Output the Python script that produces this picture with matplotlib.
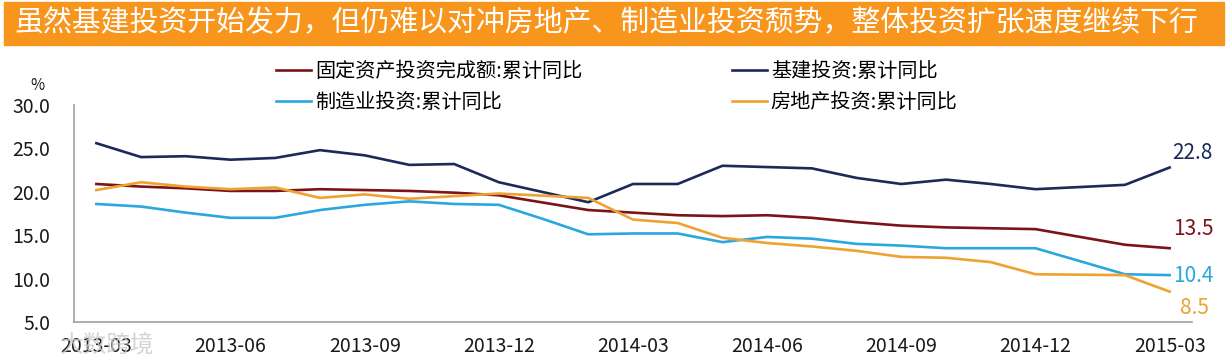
import matplotlib.pyplot as plt
from matplotlib.patches import Rectangle

plt.rcParams['font.family'] = ['Noto Sans CJK SC', 'DejaVu Sans']

# 月份（2013-03 至 2015-03）
months = ['2013-03', '2013-04', '2013-05', '2013-06', '2013-07', '2013-08', '2013-09',
          '2013-10', '2013-11', '2013-12', '2014-01', '2014-02', '2014-03', '2014-04',
          '2014-05', '2014-06', '2014-07', '2014-08', '2014-09', '2014-10', '2014-11',
          '2014-12', '2015-01', '2015-02', '2015-03']

# 累计同比 (%)
fai = [20.9, 20.6, 20.4, 20.1, 20.1, 20.3, 20.2, 20.1, 19.9, 19.6, 18.75, 17.9, 17.6,
       17.3, 17.2, 17.3, 17.0, 16.5, 16.1, 15.9, 15.8, 15.7, 14.8, 13.9, 13.5]
infra = [25.6, 24.0, 24.1, 23.7, 23.9, 24.8, 24.2, 23.1, 23.2, 21.1, 19.95, 18.8, 20.9,
         20.9, 23.0, 22.85, 22.7, 21.6, 20.9, 21.4, 20.9, 20.3, 20.55, 20.8, 22.8]
manuf = [18.6, 18.3, 17.6, 17.0, 17.0, 17.9, 18.5, 18.9, 18.6, 18.5, 16.85, 15.1, 15.2,
         15.2, 14.2, 14.8, 14.6, 14.0, 13.8, 13.5, 13.5, 13.5, 12.0, 10.5, 10.4]
estate = [20.2, 21.1, 20.6, 20.3, 20.5, 19.3, 19.7, 19.2, 19.5, 19.8, 19.55, 19.3, 16.8,
          16.4, 14.7, 14.1, 13.7, 13.2, 12.5, 12.4, 11.9, 10.5, 10.45, 10.4, 8.5]

c_fai = '#7a1418'
c_infra = '#1c2a5a'
c_manuf = '#2aa8de'
c_estate = '#eea231'

fig = plt.figure(figsize=(12.28, 3.64), dpi=100)

# 标题条
fig.patches.append(Rectangle((4 / 1228, 1 - 45 / 364), 1220 / 1228, 43 / 364,
                             transform=fig.transFigure, color='#f7951d', zorder=0))
fig.text(14 / 1228, 1 - 23 / 364,
         '虽然基建投资开始发力，但仍难以对冲房地产、制造业投资颓势，整体投资扩张速度继续下行',
         color='white', fontsize=20.8, va='center', ha='left')

ax = fig.add_axes([74 / 1228, 1 - 322 / 364, 1118 / 1228, 217 / 364])
x = list(range(len(months)))
l1, = ax.plot(x, fai, color=c_fai, lw=1.9, label='固定资产投资完成额:累计同比')
l2, = ax.plot(x, infra, color=c_infra, lw=1.9, label='基建投资:累计同比')
l3, = ax.plot(x, manuf, color=c_manuf, lw=1.9, label='制造业投资:累计同比')
l4, = ax.plot(x, estate, color=c_estate, lw=1.9, label='房地产投资:累计同比')

ax.set_xlim(-0.5, len(months) - 0.5)
ax.set_ylim(5, 30)
ax.set_yticks([5, 10, 15, 20, 25, 30])
ax.set_yticklabels([f'{v:.1f}' for v in [5, 10, 15, 20, 25, 30]])
ax.set_xticks(x[::3])
ax.set_xticklabels(months[::3])
ax.tick_params(axis='both', length=0, labelsize=14, colors='#1a1a1a')
ax.tick_params(axis='x', pad=10)
ax.tick_params(axis='y', pad=17)
for s in ['top', 'right']:
    ax.spines[s].set_visible(False)
for s in ['left', 'bottom']:
    ax.spines[s].set_color('#a0a0a0')
    ax.spines[s].set_linewidth(1.2)

fig.text(37 / 1228, 1 - 86 / 364, '%', fontsize=11, ha='center', va='center', color='#1a1a1a')

# 末端数值标签
last = len(months) - 1
ax.annotate(f'{infra[-1]:.1f}', xy=(last, infra[-1]), xytext=(3, 14), textcoords='offset pixels',
            color=c_infra, fontsize=15, ha='left', va='center')
ax.annotate(f'{fai[-1]:.1f}', xy=(last, fai[-1]), xytext=(3, 19), textcoords='offset pixels',
            color=c_fai, fontsize=15, ha='left', va='center')
ax.annotate(f'{manuf[-1]:.1f}', xy=(last, manuf[-1]), xytext=(3, -1), textcoords='offset pixels',
            color=c_manuf, fontsize=15, ha='left', va='center')
ax.annotate(f'{estate[-1]:.1f}', xy=(last, estate[-1]), xytext=(10, -16), textcoords='offset pixels',
            color=c_estate, fontsize=15, ha='left', va='center')

fig.legend([l1, l3, l2, l4], [l1.get_label(), l3.get_label(), l2.get_label(), l4.get_label()],
           ncol=2, loc='upper left', bbox_to_anchor=(276 / 1228, 1 - 61 / 364), frameon=False,
           fontsize=14.5, handlelength=1.75, handletextpad=0.2, columnspacing=7.4,
           labelspacing=0.5, borderaxespad=0, borderpad=0)

# 水印
fig.text(60 / 1228, 1 - 345 / 364, '大数跨境', color='#c8c8c8', alpha=0.8,
         fontsize=17, ha='left', va='center')

fig.savefig('out.png', dpi=100)
